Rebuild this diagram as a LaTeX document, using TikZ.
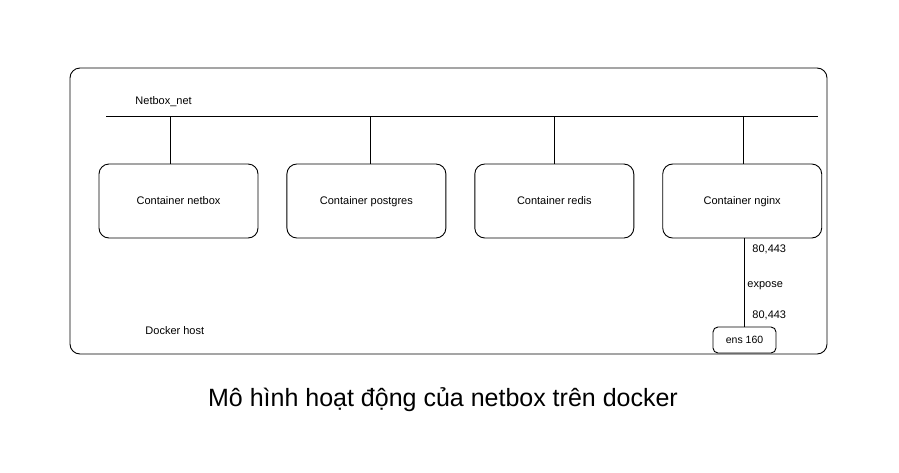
\documentclass[tikz,border=0pt]{standalone}
\usepackage{fontspec}
\setmainfont{Liberation Sans}
\usetikzlibrary{positioning}
\tikzset{container/.style={draw,rounded corners=10pt,minimum width=159pt,minimum height=74pt,
        inner sep=0pt,text height=8pt,text depth=2pt,font=\fontsize{11}{13}\selectfont},
        lbl/.style={inner sep=1pt,font=\fontsize{11}{13}\selectfont}}

\begin{document}
\begin{tikzpicture}[x=1pt,y=-1pt,line width=0.9pt]
\useasboundingbox (0,0) rectangle (899,472);
  \node[draw,rounded corners=10pt,minimum width=757pt,minimum height=286pt,inner sep=0pt] (host) at (448.5,211) {};
  \coordinate (netL) at (106,116);
  \coordinate (netR) at (818,116);
  \draw (netL) -- (netR);
  \node[lbl,anchor=west] (netname) at (134,102) {Netbox\_net};
  \node[container] (netbox) at (178.5,201) {Container netbox};
  \node[container,right=28pt of netbox] (postgres) {Container postgres};
  \node[container,right=28pt of postgres] (redis) {Container redis};
  \node[container,right=28pt of redis] (nginx) {Container nginx};
  \foreach \c/\d in {netbox/-8,postgres/4,redis/0,nginx/1}
    \draw ([xshift=\d pt]\c.north) -- ([xshift=\d pt]\c.north |- netL);
  \node[draw,rounded corners=5pt,minimum width=63pt,minimum height=26pt,inner sep=0pt,
        font=\fontsize{10.5}{12}\selectfont] (ens) at (744.5,340) {ens 160};
  \draw (nginx.south -| ens.north) -- (ens.north);
  \node[lbl,anchor=west] (porta) at (751,249) {80,443};
  \node[lbl,anchor=west] (expose) at (746,286) {expose};
  \node[lbl,anchor=west] (portb) at (751,315) {80,443};
  \node[lbl,anchor=west] (hostname) at (144,331) {Docker host};
  \node[font=\fontsize{25}{28}\selectfont] (title) at (443,400) {Mô hình hoạt động của netbox trên docker};
\end{tikzpicture}
\end{document}
